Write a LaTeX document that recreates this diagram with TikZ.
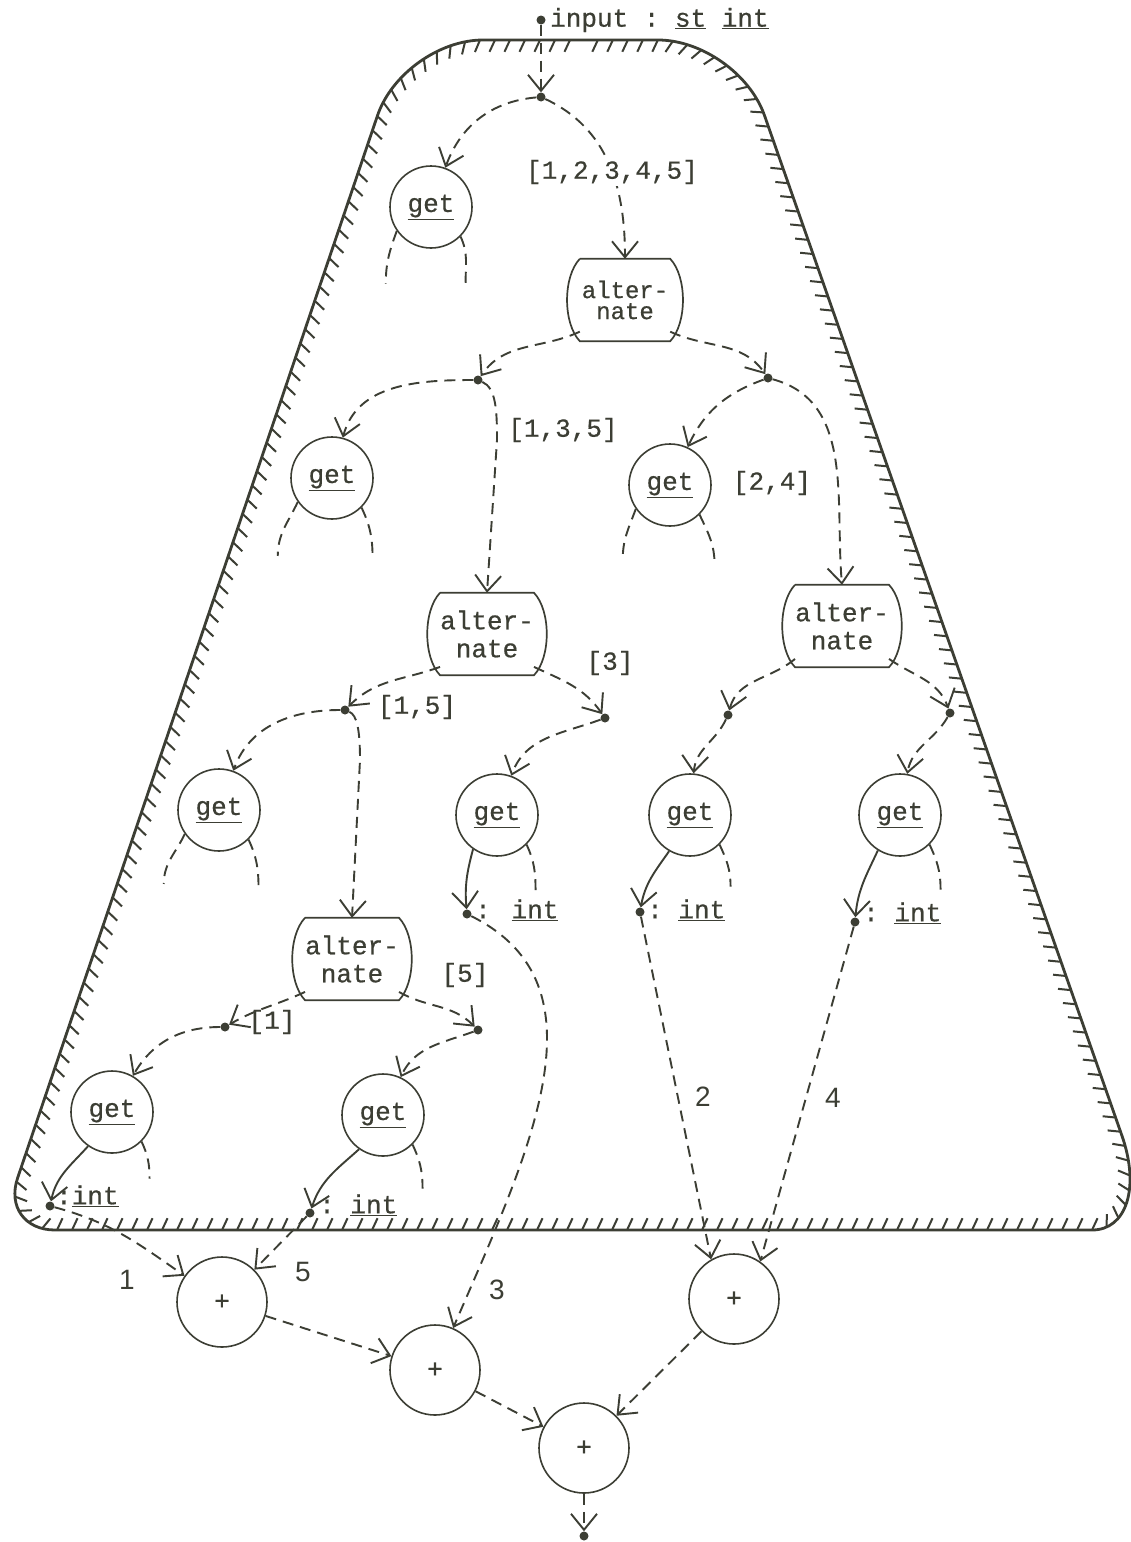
\documentclass[tikz,border=0pt]{standalone}
\usepackage{fontspec}
\setmonofont{Liberation Mono}[FakeBold=0.6]
\newfontfamily\numfont{Liberation Sans}
\usetikzlibrary{arrows.meta,decorations.pathreplacing,calc}
\definecolor{ink}{RGB}{60,62,52}
\newcommand\barrel[1]{\draw[shapeline] (#1.north west) -- (#1.north east) .. controls +(17,-18) and +(17,18) .. (#1.south east) -- (#1.south west) .. controls +(-17,18) and +(-17,-18) .. (#1.north west);}
\begin{document}
\begin{tikzpicture}[x=1pt,y=1pt,color=ink,
  tt/.style={font=\ttfamily\fontsize{26}{26}\selectfont},
  shapeline/.style={line width=1.7pt},
  getnode/.style={circle,draw,line width=1.6pt,minimum size=82pt,inner sep=0pt,tt},
  plusnode/.style={circle,draw,line width=1.6pt,minimum size=90pt,inner sep=0pt,tt},
  altnode/.style={rectangle,minimum width=90pt,minimum height=82pt,inner sep=0pt,align=center,font=\ttfamily\fontsize{26}{28}\selectfont},
  dotnode/.style={circle,fill,inner sep=0pt,minimum size=9pt},
  dsh/.style={line width=1.9pt,dash pattern=on 11pt off 7pt},
  sol/.style={line width=1.9pt},
  arr/.style={-{Straight Barb[length=16pt,width=26pt]}},
  lbl/.style={tt,inner sep=1pt},
  num/.style={font=\numfont\fontsize{28}{28}\selectfont,inner sep=0pt},
  hatch/.style={line width=2.8pt,postaction={draw,line width=2pt,decorate,decoration={border,segment length=15pt,amplitude=13pt,angle=65}}}
]
\useasboundingbox (0,0) rectangle (1131,-1542);
\fill[white] (0,0) rectangle (1131,-1542);

% ---- outline
\coordinate (TL) at (403,-40);
\coordinate (TR) at (738,-40);
\coordinate (BL) at (0,-1230);
\coordinate (BR) at (1155,-1230);
\coordinate (TLt) at (483,-40);
\coordinate (TLs) at (377.4,-115.8);
\coordinate (BLs) at (17.6,-1178);
\coordinate (BLb) at (55,-1230);
\coordinate (BRb) at (1092,-1230);
\coordinate (BRs) at (1121.9,-1135.6);
\coordinate (TRs) at (764.5,-115.5);
\coordinate (TRt) at (658,-40);
\draw[hatch] (570,-40) -- (TLt) .. controls ($(TLt)!0.55!(TL)$) and ($(TLs)!0.55!(TL)$) .. (TLs)
  -- (BLs) .. controls ($(BLs)!0.55!(BL)$) and ($(BLb)!0.55!(BL)$) .. (BLb)
  -- (BRb) .. controls ($(BRb)!0.55!(BR)$) and ($(BRs)!0.55!(BR)$) .. (BRs)
  -- (TRs) .. controls ($(TRs)!0.55!(TR)$) and ($(TRt)!0.55!(TR)$) .. (TRt) -- cycle;

% ---- dots
\node[dotnode] (in) at (541,-20) {};
\node[dotnode] (d1) at (541,-97) {};
\node[dotnode] (d2) at (478,-380) {};
\node[dotnode] (d3) at (768,-378) {};
\node[dotnode] (d4) at (345,-710) {};
\node[dotnode] (d5) at (605,-718) {};
\node[dotnode] (d6) at (467,-914) {};
\node[dotnode] (d7) at (728,-715) {};
\node[dotnode] (d8) at (950,-713) {};
\node[dotnode] (d9) at (640,-912) {};
\node[dotnode] (d10) at (855,-922) {};
\node[dotnode] (d11) at (225,-1027) {};
\node[dotnode] (d12) at (478,-1030) {};
\node[dotnode] (d13) at (50,-1206) {};
\node[dotnode] (d14) at (310,-1213) {};
\node[dotnode] (out) at (584,-1536) {};

% ---- get nodes
\node[getnode] (g1) at (431,-207) {\underline{get}};
\node[getnode] (g2) at (332,-478) {\underline{get}};
\node[getnode] (g3) at (670,-485) {\underline{get}};
\node[getnode] (g4) at (219,-810) {\underline{get}};
\node[getnode] (g5) at (497,-815) {\underline{get}};
\node[getnode] (g6) at (690,-815) {\underline{get}};
\node[getnode] (g7) at (900,-815) {\underline{get}};
\node[getnode] (g8) at (112,-1112) {\underline{get}};
\node[getnode] (g9) at (383,-1115) {\underline{get}};

% ---- alternate nodes
\node[altnode,font=\ttfamily\fontsize{24}{21}\selectfont] (a1) at (625,-300) {alter-\\nate};
\node[altnode] (a2) at (487,-634) {alter-\\nate};
\node[altnode] (a3) at (842,-626) {alter-\\nate};
\node[altnode] (a4) at (352,-959) {alter-\\nate};
\barrel{a1}\barrel{a2}\barrel{a3}\barrel{a4}

% ---- plus nodes
\node[plusnode] (p1) at (222,-1302) {+};
\node[plusnode] (p2) at (435,-1370) {+};
\node[plusnode] (p3) at (734,-1299) {+};
\node[plusnode] (p4) at (584,-1448) {+};

% ---- connectors
\draw[dsh,arr] (in) -- (d1);
\draw[dsh,arr] (d1) to[out=185,in=70] (g1);
\draw[dsh,arr] (d1) to[out=-25,in=90] (a1.north);
\draw[dsh,arr] (a1.215) to[out=205,in=55] (d2);
\draw[dsh,arr] (a1.-35) to[out=-25,in=125] (d3);
\draw[dsh,arr] (d2) to[out=180,in=75] (g2);
\draw[dsh,arr] (d2) .. controls +(18,-8) and +(0,30) .. (497,-440) -- (a2.north);
\draw[dsh,arr] (d3) to[out=200,in=65] (g3);
\draw[dsh,arr] (d3) to[out=-15,in=95] (a3.north);
\draw[dsh,arr] (a2.215) to[out=200,in=45] (d4);
\draw[dsh,arr] (a2.-35) to[out=-25,in=125] (d5);
\draw[dsh,arr] (d4) to[out=180,in=70] (g4);
\draw[dsh,arr] (d4) .. controls +(12,-5) and +(0,30) .. (360,-760) -- (a4.north);
\draw[dsh,arr] (d5) to[out=200,in=70] (g5);
\draw[dsh,arr] (a3.215) to[out=220,in=75] (d7);
\draw[dsh,arr] (a3.-35) to[out=-35,in=110] (d8);
\draw[dsh,arr] (d7) to[out=245,in=85] (g6);
\draw[dsh,arr] (d8) to[out=240,in=80] (g7);
\draw[dsh,arr] (a4.215) to[out=205,in=30] (d11);
\draw[dsh,arr] (a4.-35) to[out=-30,in=135] (d12);
\draw[dsh,arr] (d11) to[out=180,in=60] (g8);
\draw[dsh,arr] (d12) to[out=200,in=65] (g9);

% solid results
\draw[sol,arr] (g5.235) to[out=255,in=95] (d6);
\draw[sol,arr] (g6.240) to[out=235,in=80] (d9);
\draw[sol,arr] (g7.238) to[out=245,in=85] (d10);
\draw[sol,arr] (g8.235) to[out=228,in=78] (d13);
\draw[sol,arr] (g9.235) to[out=222,in=72] (d14);

% unused legs
\draw[dsh] (g1.215) to[out=250,in=90] ++(-11,-53) coordinate (g1l);
\draw[dsh] (g1.-45) to[out=-65,in=90] ++(5,-47) coordinate (g1r);
\draw[dsh] (g2.215) to[out=245,in=90] ++(-20,-54) coordinate (g2l);
\draw[dsh] (g2.-45) to[out=-65,in=90] ++(11,-50) coordinate (g2r);
\draw[dsh] (g3.215) to[out=250,in=90] ++(-13,-50) coordinate (g3l);
\draw[dsh] (g3.-45) to[out=-65,in=90] ++(15,-50) coordinate (g3r);
\draw[dsh] (g4.215) to[out=245,in=90] ++(-21,-50) coordinate (g4l);
\draw[dsh] (g4.-45) to[out=-65,in=90] ++(10,-50) coordinate (g4r);
\draw[dsh] (g5.-45) to[out=-65,in=90] ++(9,-46) coordinate (g5r);
\draw[dsh] (g6.-45) to[out=-65,in=90] ++(11,-42) coordinate (g6r);
\draw[dsh] (g7.-45) to[out=-65,in=90] ++(11,-45) coordinate (g7r);
\draw[dsh] (g8.-45) to[out=-65,in=90] ++(8,-37) coordinate (g8r);
\draw[dsh] (g9.-45) to[out=-65,in=90] ++(10,-44) coordinate (g9r);

% bottom
\draw[dsh,arr] (d13) to[out=-15,in=145] (p1.145);
\draw[dsh,arr] (d14) -- (p1.45);
\draw[dsh,arr] (d6) .. controls (610,-985) and (530,-1150) .. (p2);
\draw[dsh,arr] (d9) -- (p3.120);
\draw[dsh,arr] (d10) -- (p3.55);
\draw[dsh,arr] (p1) -- (p2);
\draw[dsh,arr] (p2) -- (p4);
\draw[dsh,arr] (p3) -- (p4);
\draw[dsh,arr] (p4) -- (out);

% ---- labels
\node[lbl,anchor=west] (inl) at (549,-20) {input : \underline{st} \underline{int}};
\node[lbl,fill=white,inner sep=2pt] (l12345) at (612,-172) {[1,2,3,4,5]};
\node[lbl] (l135) at (563,-430) {[1,3,5]};
\node[lbl] (l24) at (772,-483) {[2,4]};
\node[lbl] (l15) at (417,-707) {[1,5]};
\node[lbl] (l3) at (610,-663) {[3]};
\node[lbl] (l1) at (272,-1022) {[1]};
\node[lbl] (l5) at (465,-975) {[5]};
\node[lbl,anchor=west] (i5) at (474,-910) {:\hspace{0.8em}\underline{int}};
\node[lbl,anchor=west] (i6) at (646,-910) {: \underline{int}};
\node[lbl,anchor=west] (i7) at (862,-913) {: \underline{int}};
\node[lbl,anchor=west] (i8) at (55,-1196) {:\underline{int}};
\node[lbl,anchor=west] (i9) at (318,-1205) {: \underline{int}};
\node[num] (n1) at (127,-1280) {1};
\node[num] (n5) at (303,-1272) {5};
\node[num] (n3) at (497,-1290) {3};
\node[num] (n2) at (703,-1097) {2};
\node[num] (n4) at (833,-1098) {4};
\end{tikzpicture}
\end{document}
